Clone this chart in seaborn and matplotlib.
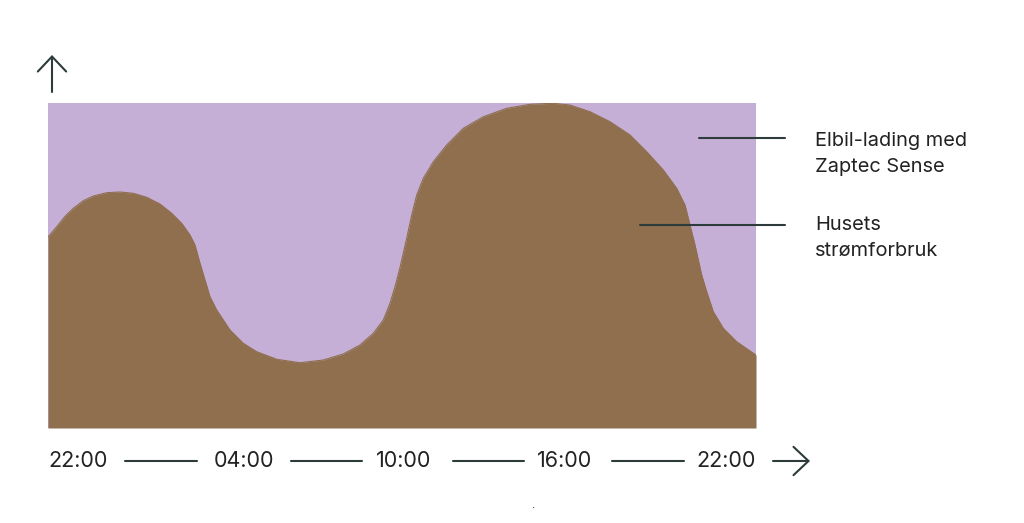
import matplotlib
matplotlib.use("Agg")
import matplotlib.pyplot as plt
from matplotlib.lines import Line2D
from matplotlib.patches import FancyArrowPatch
import seaborn as sns
import pandas as pd

# ---- data (hours after 22:00, house consumption as % of capacity) ----
hours = [0.000, 0.295, 0.576, 0.858, 1.197, 1.536, 1.990, 2.441, 2.892, 3.346,
         3.797, 4.193, 4.532, 4.814, 4.983, 5.153, 5.322, 5.492, 5.719, 6.169,
         6.620, 7.075, 7.753, 8.542, 9.332, 10.010, 10.576, 11.027, 11.366,
         11.593, 11.763, 11.932, 12.159, 12.329, 12.498, 12.722, 13.061, 13.515,
         14.078, 14.756, 15.549, 16.339, 17.119, 17.695, 18.373, 19.051, 19.729,
         20.295, 20.858, 21.312, 21.593, 21.763, 21.932, 22.159, 22.329, 22.553,
         22.892, 23.346, 24.000]
house_use = [58.77, 61.94, 65.14, 67.60, 69.94, 71.38, 72.40, 72.62, 72.22, 70.99,
             68.92, 66.06, 62.98, 59.38, 56.31, 50.68, 45.54, 40.40, 36.31, 30.15,
             26.06, 23.48, 21.14, 20.09, 20.92, 22.77, 25.54, 29.14, 33.23,
             38.37, 43.48, 49.38, 58.37, 65.54, 71.69, 76.83, 81.94, 87.08,
             92.22, 95.78, 98.37, 99.60, 99.91, 99.38, 97.32, 94.25, 90.15,
             85.02, 79.38, 73.75, 68.62, 62.46, 56.31, 47.08, 41.94, 35.78,
             30.68, 26.55, 22.46]
capacity = 100.0
tick_labels = ["22:00", "04:00", "10:00", "16:00", "22:00"]
series_labels = ["Elbil-lading med\nZaptec Sense", "Husets\nstrømforbruk"]

df = pd.DataFrame({"hour": hours, "house": house_use})

PURPLE = "#C6AFD7"
BROWN = "#8F6F4E"
INK = "#2E3B3B"
TXT = "#222222"

sns.set_theme(style="white")
plt.rcParams["font.family"] = ["Inter", "DejaVu Sans"]

W, H = 1024, 523
fig = plt.figure(figsize=(W / 100, H / 100), dpi=100)

def fx(px):
    return px / W

def fy(py):
    return 1 - py / H

ax = fig.add_axes([fx(48), fy(428), fx(756) - fx(48), (428 - 103) / H])
ax.fill_between([0, 24], 0, capacity, color=PURPLE, linewidth=0)
sns.lineplot(data=df, x="hour", y="house", ax=ax, color=BROWN, linewidth=0.8)
ax.fill_between(df["hour"], 0, df["house"], color=BROWN, linewidth=0)
ax.set_xlim(0, 24)
ax.set_ylim(0, capacity)
ax.set_axis_off()

# x labels and separators
label_x = [78, 244, 404, 565, 726]
for lx, t in zip(label_x, tick_labels):
    fig.text(fx(lx), fy(461), t, ha="center", va="center", fontsize=15.5, color=TXT)
for x0, x1 in [(125, 197), (291, 362), (453, 524), (612, 684)]:
    fig.add_artist(Line2D([fx(x0), fx(x1)], [fy(461), fy(461)], color=INK, lw=1.5))

# arrows
arrow_style = "->,head_length=3.6,head_width=3.4"
fig.add_artist(FancyArrowPatch(
    (fx(773), fy(461)), (fx(810), fy(461)), transform=fig.transFigure,
    arrowstyle=arrow_style, color=INK, lw=1.5, mutation_scale=3,
    shrinkA=0, shrinkB=0))
fig.add_artist(FancyArrowPatch(
    (fx(52), fy(92)), (fx(52), fy(55)), transform=fig.transFigure,
    arrowstyle=arrow_style, color=INK, lw=1.5, mutation_scale=3,
    shrinkA=0, shrinkB=0))

# series annotations
fig.add_artist(Line2D([fx(699), fx(785)], [fy(138), fy(138)], color=INK, lw=1.5))
fig.add_artist(Line2D([fx(640), fx(785)], [fy(225), fy(225)], color=INK, lw=1.5))
fig.text(fx(815), fy(154), series_labels[0], ha="left", va="center", fontsize=14.4,
         color=TXT, linespacing=1.5)
fig.text(fx(815), fy(238), series_labels[1], ha="left", va="center", fontsize=14.4,
         color=TXT, linespacing=1.5)

fig.text(fx(533), fy(505), ".", ha="center", va="center", fontsize=8, color=TXT)

fig.savefig("out.png", dpi=100, facecolor="white")
